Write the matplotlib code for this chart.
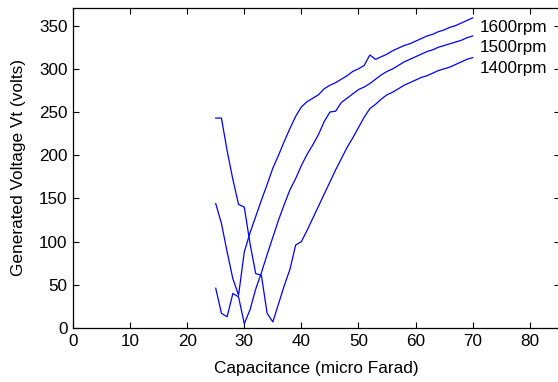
import matplotlib
matplotlib.use('Agg')
from matplotlib import pyplot as plt

plt.rcParams['font.family'] = ['Liberation Sans', 'DejaVu Sans']

# capacitance steps (micro Farad)
cap = list(range(25, 71))

# generated voltage for each speed
v1400 = [243, 243, 205, 172, 143, 140, 98, 63, 61, 17,
         7, 28, 49, 68, 96, 100, 113, 127, 141, 155,
         169, 183, 196, 209, 220, 232, 244, 254, 259, 265,
         270, 273, 277, 281, 284, 287, 290, 292, 295, 298,
         300, 302, 305, 308, 311, 313]
v1500 = [46, 17, 13, 40, 36, 5, 21, 45, 64, 85,
         105, 125, 143, 160, 173, 188, 201, 212, 224, 239,
         250, 251, 261, 266, 271, 276, 279, 283, 288, 293,
         297, 300, 304, 308, 311, 314, 317, 320, 322, 325,
         327, 329, 331, 333, 336, 338]
v1600 = [144, 121, 88, 57, 38, 88, 110, 129, 148, 166,
         185, 200, 216, 231, 245, 256, 262, 266, 270, 277,
         281, 284, 288, 292, 297, 300, 304, 316, 311, 314,
         317, 321, 324, 327, 329, 332, 335, 338, 340, 343,
         345, 348, 350, 353, 356, 359]

speeds = ['1600rpm', '1500rpm', '1400rpm']
label_y = [343, 320, 295.5]

fig = plt.figure(figsize=(5.58, 3.82), dpi=100)
ax = fig.add_axes([73 / 558, 54 / 382, (560 - 73) / 558, (328 - 7.5) / 382])

for v in (v1400, v1500, v1600):
    ax.plot(cap, v, color='#0000ff', lw=0.9)

for name, y in zip(speeds, label_y):
    ax.text(71.2, y, name, fontsize=12.3, va='baseline', ha='left')

ax.set_xlim(0, 85.3)
ax.set_ylim(0, 371)
ax.set_xticks(range(0, 81, 10))
ax.set_yticks(range(0, 351, 50))
ax.tick_params(direction='in', top=True, right=True, labelsize=12.3,
               length=4, width=0.8, pad=4)
for s in ax.spines.values():
    s.set_linewidth(0.9)

ax.set_xlabel('Capacitance (micro Farad)', fontsize=12.4, labelpad=9)
ax.set_ylabel('Generated Voltage Vt (volts)', fontsize=12.4, labelpad=9)

fig.savefig('out.png', dpi=100)
